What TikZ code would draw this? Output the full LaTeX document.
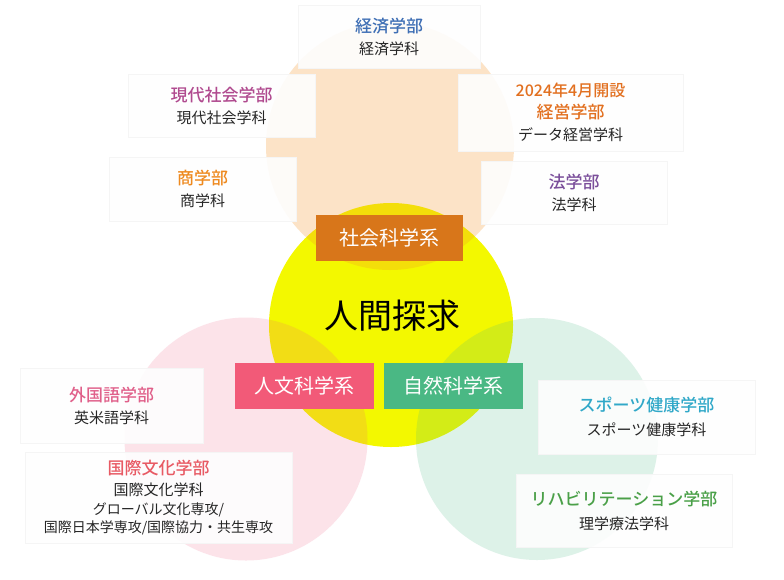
\documentclass[tikz,border=0pt]{standalone}
\usepackage{fontspec}
\setmainfont{Noto Sans CJK JP}[BoldFont={Noto Sans CJK JP Medium}]
\usepackage{tikz}
\usetikzlibrary{positioning, shadows}

\definecolor{giallo}{RGB}{243,248,0}
\definecolor{arancio}{RGB}{245,150,40}
\definecolor{rosa}{RGB}{240,90,130}
\definecolor{verde}{RGB}{70,185,130}
\definecolor{arancione}{RGB}{216,118,26}
\definecolor{rosso}{RGB}{242,90,120}
\definecolor{verdescuro}{RGB}{74,184,132}
\definecolor{blu}{RGB}{63,111,181}
\definecolor{magenta}{RGB}{176,74,143}
\definecolor{aranciokeiei}{RGB}{226,112,32}
\definecolor{aranciosho}{RGB}{238,138,32}
\definecolor{viola}{RGB}{123,79,155}
\definecolor{rosafac}{RGB}{224,96,138}
\definecolor{rossofac}{RGB}{232,90,100}
\definecolor{ciano}{RGB}{48,168,200}
\definecolor{verdefac}{RGB}{74,160,72}

\newcommand{\tit}[2]{{\fontsize{17}{22}\selectfont\bfseries\color{#1}#2}}

\begin{document}
\begin{tikzpicture}[x=1pt, y=-1pt,
    facolta/.style={fill=white, fill opacity=0.9, text opacity=1, draw=black!4,
        drop shadow={shadow xshift=0.6pt, shadow yshift=-1pt, opacity=0.07},
        align=center, inner sep=0pt, text=black!85, font=\fontsize{15}{22}\selectfont},
    sistema/.style={fill=#1, text=white, inner sep=0pt, minimum width=139pt,
        minimum height=46pt, font=\fontsize{20}{24}\selectfont}]
    \useasboundingbox[fill=white] (0,0) rectangle (784,579);

    % Cerchi
    \fill[giallo] (391,325) circle (122);
    \fill[arancio, opacity=0.26] (390,146) circle (124);
    \fill[rosa, opacity=0.17] (246,439) circle (121.5);
    \fill[verde, opacity=0.18] (537,439) circle (121);

    % Facolta area sociale
    \node[facolta, minimum width=182pt, minimum height=63pt] (keizai) at (389,36.5)
        {\tit{blu}{経済学部}\\ 経済学科};
    \node[facolta, minimum width=187pt, minimum height=63pt] (gendai) at (221.5,105.5)
        {\tit{magenta}{現代社会学部}\\ 現代社会学科};
    \node[facolta, minimum width=225pt, minimum height=77pt] (keiei) at (570.5,112.5)
        {{\fontsize{16}{22}\selectfont\bfseries\color{aranciokeiei}2024年4月開設}\\
         \tit{aranciokeiei}{経営学部}\\ データ経営学科};
    \node[facolta, minimum width=187pt, minimum height=64pt] (shogaku) at (202.5,189)
        {\tit{aranciosho}{商学部}\\ 商学科};
    \node[facolta, minimum width=186pt, minimum height=63pt] (hogaku) at (574,192.5)
        {\tit{viola}{法学部}\\ 法学科};

    % Facolta area umanistica
    \node[facolta, minimum width=183pt, minimum height=75pt] (gaikoku) at (111.5,405.5)
        {\tit{rosafac}{外国語学部}\\ 英米語学科};
    \node[facolta, minimum width=267pt, minimum height=91pt,
        font=\fontsize{14}{18.5}\selectfont] (kokusai) at (158.5,497.5)
        {\tit{rossofac}{国際文化学部}\\[3pt]
         {\fontsize{15}{18.5}\selectfont 国際文化学科}\\
         グローバル文化専攻/\\ 国際日本学専攻/国際協力・共生専攻};

    % Facolta area scientifica
    \node[facolta, minimum width=217pt, minimum height=74pt] (sports) at (646.5,417)
        {\tit{ciano}{スポーツ健康学部}\\[2pt] スポーツ健康学科};
    \node[facolta, minimum width=216pt, minimum height=73pt] (riha) at (624,510.5)
        {\tit{verdefac}{リハビリテーション学部}\\[2pt] 理学療法学科};

    % Sistemi
    \node[sistema=arancione, minimum width=147pt] (shakai) at (389.5,238) {社会科学系};
    \node[sistema=rosso] (jinbun) at (304.5,386) {人文科学系};
    \node[sistema=verdescuro, right=10pt of jinbun] (shizen) {自然科学系};
    \node[font=\fontsize{34}{40}\selectfont] (ningen) at (392.5,316) {人間探求};
\end{tikzpicture}
\end{document}
